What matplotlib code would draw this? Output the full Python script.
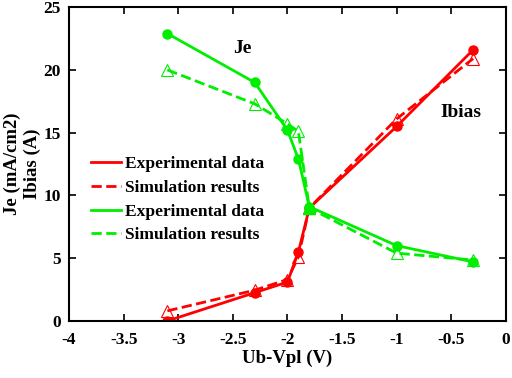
import matplotlib
matplotlib.use("Agg")
import matplotlib.pyplot as plt

plt.rcParams['font.family'] = ['Liberation Serif', 'DejaVu Serif']
plt.rcParams['font.weight'] = 'bold'

ub = [-3.1, -2.3, -2.0, -1.9, -1.8, -1.0, -0.3]
ibias_exp = [0.0, 2.25, 3.1, 5.5, 9.0, 15.5, 21.6]
ibias_sim = [0.8, 2.45, 3.3, 5.1, 9.0, 16.1, 20.9]
je_exp = [22.9, 19.0, 15.2, 12.9, 9.1, 6.0, 4.7]
je_sim = [20.0, 17.3, 15.7, 15.1, 9.0, 5.4, 4.85]

red = '#ff0000'
green = '#00ee00'

fig = plt.figure(figsize=(5.12, 3.78), dpi=100)
ax = fig.add_axes([0.135, 0.151, 0.853, 0.830])

ax.plot(ub, ibias_exp, '-', color=red, lw=2, marker='o', ms=6.5, label='Experimental data')
ax.plot(ub, ibias_sim, '--', color=red, lw=2, marker='^', ms=9, mfc='none', mew=0.8,
        label='Simulation results')
ax.plot(ub, je_exp, '-', color=green, lw=2, marker='o', ms=6.5, label='Experimental data')
ax.plot(ub, je_sim, '--', color=green, lw=2, marker='^', ms=9, mfc='none', mew=0.8,
        label='Simulation results')
# filled triangle where the curves meet
ax.plot(ub[4], je_sim[4], '^', color=green, ms=9)

ax.text(-2.41, 21.7, 'Je', fontsize=14, fontweight='bold', ha='center', va='center')
ax.text(-0.41, 16.6, 'Ibias', fontsize=14, fontweight='bold', ha='center', va='center')

ax.set_xlim(-4, 0)
ax.set_ylim(0, 25)
ax.set_xticks([-4, -3.5, -3, -2.5, -2, -1.5, -1, -0.5, 0])
ax.set_xticklabels(['-4', '-3.5', '-3', '-2.5', '-2', '-1.5', '-1', '-0.5', '0'])
ax.set_yticks([0, 5, 10, 15, 20, 25])
ax.tick_params(direction='in', top=True, right=True, labelsize=12.5, length=5, width=1.2)
ax.tick_params(axis='x', pad=8)
ax.tick_params(axis='y', pad=6)
for s in ax.spines.values():
    s.set_linewidth(1.5)
ax.set_xlabel('Ub-Vpl (V)', fontsize=13.5, fontweight='bold', labelpad=1)
ax.set_ylabel('Je (mA/cm2)\nIbias (A)', fontsize=13.5, fontweight='bold', labelpad=2)

leg = ax.legend(loc='upper left', bbox_to_anchor=(0.035, 0.548), frameon=False,
                prop={'size': 12.5, 'weight': 'bold'}, handlelength=1.7,
                handletextpad=0.25, labelspacing=0.44, borderaxespad=0)
for h in leg.legend_handles:
    h.set_marker('')

fig.savefig('out.png', dpi=100)
